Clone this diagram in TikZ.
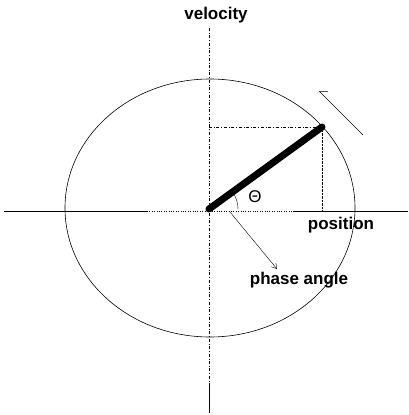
\documentclass[tikz,border=0pt]{standalone}
\usepackage{fontspec}
\setmainfont{Liberation Sans}
\usetikzlibrary{arrows.meta}

\begin{document}
\begin{tikzpicture}[x=1pt,y=-1pt,font=\bfseries\fontsize{17}{20}\selectfont]
        \useasboundingbox (0,0) rectangle (409,415);
        \coordinate (O) at (209,209);
        \coordinate (P) at (322,127);
        % axes, partly broken as in a scanned sketch
        \draw[thin,dash dot] (209,28) -- (209,385);
        \draw[thin] (209,385) -- (209,413);
        \draw[thin] (4,211) -- (147,211);
        \draw[thin,dotted] (147,211) -- (293,211);
        \draw[thin] (293,211) -- (408,211);
        % path of the tip
        \draw[line width=0.6pt] (210,208) ellipse [x radius=145, y radius=129];
        % projections of the tip on both axes
        \draw[thin,dash dot] (209,127) -- (P);
        \draw[thin,densely dotted] (P) -- (322,211);
        % the bar and its angle
        \draw[line width=7pt,line cap=round] (O) -- (P);
        \draw[thin] (O) ++(-36:29) arc[start angle=-36, end angle=0, radius=29];
        \node[font=\fontsize{17}{17}\selectfont] (theta) at (255,197) {Θ};
        % labels
        \node (vel) at (216,15) {velocity};
        \node (pos) at (341,225) {position};
        \node (phase) at (299,280) {phase angle};
        \coordinate (pa) at (230,212);
        \coordinate (pb) at (277,269);
        \draw[thin,-{Straight Barb[length=5pt,width=6pt]}] (pa) -- (pb);
        % sense of rotation
        \coordinate (r1) at (363,135);
        \coordinate (r2) at (319,91);
        \draw[thin,-{Straight Barb[right,length=6pt]}] (r1) -- (r2);
      \end{tikzpicture}
\end{document}
